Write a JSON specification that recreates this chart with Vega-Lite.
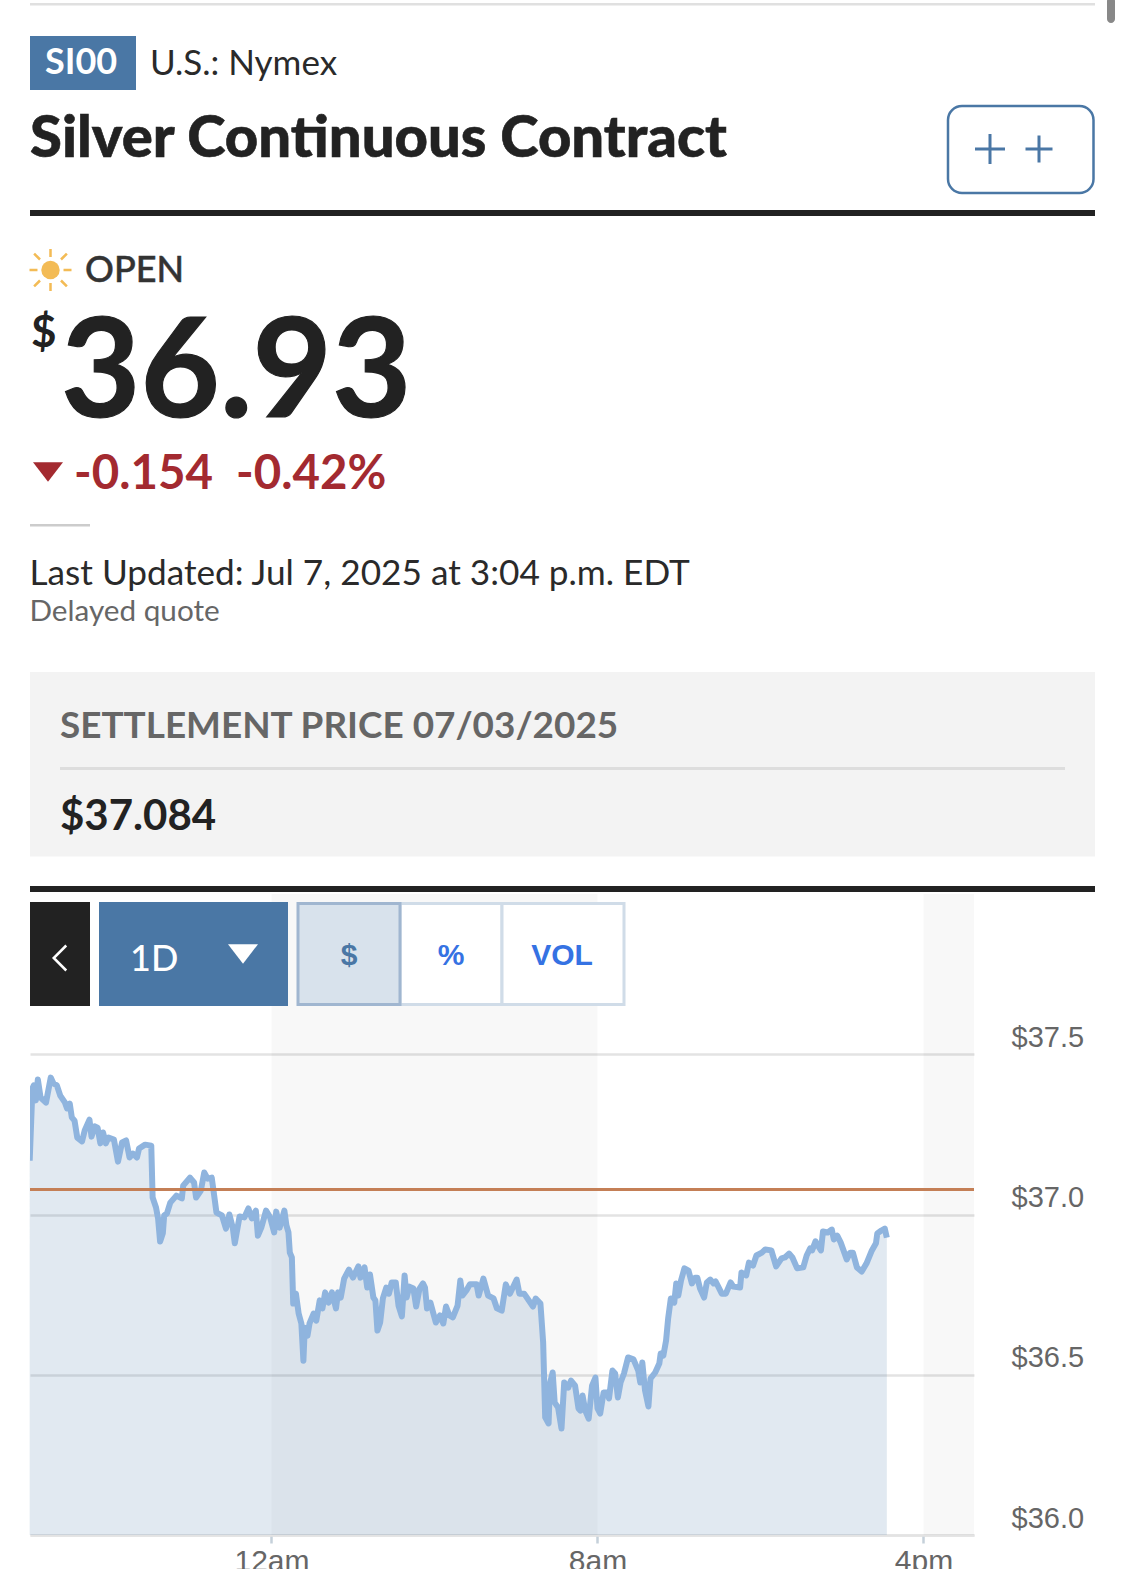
{"$schema":"https://vega.github.io/schema/vega-lite/v6.json","width":944,"height":641,"autosize":{"type":"none"},"padding":{"left":30,"top":894,"right":151,"bottom":34},"background":"#ffffff","datasets":{"quotes":[
{"t":"2025-07-06T18:04:00Z","v":37.168},{"t":"2025-07-06T18:08:00Z","v":37.393},{"t":"2025-07-06T18:10:00Z","v":37.403},{"t":"2025-07-06T18:13:00Z","v":37.356},{"t":"2025-07-06T18:16:00Z","v":37.421},{"t":"2025-07-06T18:20:00Z","v":37.365},{"t":"2025-07-06T18:28:00Z","v":37.349},{"t":"2025-07-06T18:35:00Z","v":37.427},{"t":"2025-07-06T18:39:00Z","v":37.409},{"t":"2025-07-06T18:44:00Z","v":37.403},{"t":"2025-07-06T18:49:00Z","v":37.371},{"t":"2025-07-06T18:56:00Z","v":37.349},{"t":"2025-07-06T18:59:00Z","v":37.331},{"t":"2025-07-06T19:03:00Z","v":37.346},{"t":"2025-07-06T19:06:00Z","v":37.303},{"t":"2025-07-06T19:10:00Z","v":37.293},{"t":"2025-07-06T19:14:00Z","v":37.24},{"t":"2025-07-06T19:21:00Z","v":37.228},{"t":"2025-07-06T19:25:00Z","v":37.262},{"t":"2025-07-06T19:32:00Z","v":37.296},{"t":"2025-07-06T19:35:00Z","v":37.243},{"t":"2025-07-06T19:40:00Z","v":37.275},{"t":"2025-07-06T19:44:00Z","v":37.271},{"t":"2025-07-06T19:48:00Z","v":37.222},{"t":"2025-07-06T19:52:00Z","v":37.256},{"t":"2025-07-06T19:56:00Z","v":37.222},{"t":"2025-07-06T20:00:00Z","v":37.24},{"t":"2025-07-06T20:08:00Z","v":37.234},{"t":"2025-07-06T20:14:00Z","v":37.165},{"t":"2025-07-06T20:20:00Z","v":37.225},{"t":"2025-07-06T20:26:00Z","v":37.231},{"t":"2025-07-06T20:31:00Z","v":37.178},{"t":"2025-07-06T20:36:00Z","v":37.19},{"t":"2025-07-06T20:42:00Z","v":37.178},{"t":"2025-07-06T20:45:00Z","v":37.206},{"t":"2025-07-06T20:54:00Z","v":37.218},{"t":"2025-07-06T21:03:00Z","v":37.215},{"t":"2025-07-06T21:05:00Z","v":37.053},{"t":"2025-07-06T21:10:00Z","v":37.022},{"t":"2025-07-06T21:13:00Z","v":36.988},{"t":"2025-07-06T21:16:00Z","v":36.916},{"t":"2025-07-06T21:20:00Z","v":36.941},{"t":"2025-07-06T21:22:00Z","v":36.997},{"t":"2025-07-06T21:26:00Z","v":37.003},{"t":"2025-07-06T21:31:00Z","v":37.037},{"t":"2025-07-06T21:40:00Z","v":37.059},{"t":"2025-07-06T21:48:00Z","v":37.05},{"t":"2025-07-06T21:50:00Z","v":37.09},{"t":"2025-07-06T22:00:00Z","v":37.115},{"t":"2025-07-06T22:06:00Z","v":37.1},{"t":"2025-07-06T22:09:00Z","v":37.053},{"t":"2025-07-06T22:16:00Z","v":37.075},{"t":"2025-07-06T22:21:00Z","v":37.131},{"t":"2025-07-06T22:26:00Z","v":37.112},{"t":"2025-07-06T22:32:00Z","v":37.115},{"t":"2025-07-06T22:35:00Z","v":37.069},{"t":"2025-07-06T22:39:00Z","v":37.006},{"t":"2025-07-06T22:47:00Z","v":36.997},{"t":"2025-07-06T22:53:00Z","v":36.956},{"t":"2025-07-06T22:58:00Z","v":37.0},{"t":"2025-07-06T23:03:00Z","v":36.959},{"t":"2025-07-06T23:06:00Z","v":36.91},{"t":"2025-07-06T23:13:00Z","v":36.994},{"t":"2025-07-06T23:20:00Z","v":36.991},{"t":"2025-07-06T23:26:00Z","v":37.019},{"t":"2025-07-06T23:31:00Z","v":36.988},{"t":"2025-07-06T23:37:00Z","v":37.012},{"t":"2025-07-06T23:40:00Z","v":36.934},{"t":"2025-07-06T23:45:00Z","v":36.959},{"t":"2025-07-06T23:52:00Z","v":37.012},{"t":"2025-07-06T23:58:00Z","v":36.991},
{"t":"2025-07-07T00:04:00Z","v":36.944},{"t":"2025-07-07T00:07:00Z","v":37.009},{"t":"2025-07-07T00:12:00Z","v":36.959},{"t":"2025-07-07T00:19:00Z","v":37.012},{"t":"2025-07-07T00:22:00Z","v":36.966},{"t":"2025-07-07T00:25:00Z","v":36.944},{"t":"2025-07-07T00:27:00Z","v":36.881},{"t":"2025-07-07T00:30:00Z","v":36.866},{"t":"2025-07-07T00:32:00Z","v":36.722},{"t":"2025-07-07T00:36:00Z","v":36.753},{"t":"2025-07-07T00:40:00Z","v":36.691},{"t":"2025-07-07T00:44:00Z","v":36.66},{"t":"2025-07-07T00:47:00Z","v":36.544},{"t":"2025-07-07T00:49:00Z","v":36.647},{"t":"2025-07-07T00:53:00Z","v":36.622},{"t":"2025-07-07T00:56:00Z","v":36.66},{"t":"2025-07-07T01:02:00Z","v":36.691},{"t":"2025-07-07T01:06:00Z","v":36.669},{"t":"2025-07-07T01:11:00Z","v":36.732},{"t":"2025-07-07T01:15:00Z","v":36.707},{"t":"2025-07-07T01:19:00Z","v":36.757},{"t":"2025-07-07T01:24:00Z","v":36.725},{"t":"2025-07-07T01:29:00Z","v":36.757},{"t":"2025-07-07T01:35:00Z","v":36.707},{"t":"2025-07-07T01:38:00Z","v":36.757},{"t":"2025-07-07T01:42:00Z","v":36.741},{"t":"2025-07-07T01:47:00Z","v":36.8},{"t":"2025-07-07T01:54:00Z","v":36.828},{"t":"2025-07-07T02:00:00Z","v":36.803},{"t":"2025-07-07T02:08:00Z","v":36.838},{"t":"2025-07-07T02:11:00Z","v":36.803},{"t":"2025-07-07T02:17:00Z","v":36.835},{"t":"2025-07-07T02:21:00Z","v":36.772},{"t":"2025-07-07T02:25:00Z","v":36.813},{"t":"2025-07-07T02:30:00Z","v":36.741},{"t":"2025-07-07T02:33:00Z","v":36.732},{"t":"2025-07-07T02:36:00Z","v":36.638},{"t":"2025-07-07T02:40:00Z","v":36.663},{"t":"2025-07-07T02:44:00Z","v":36.738},{"t":"2025-07-07T02:49:00Z","v":36.772},{"t":"2025-07-07T02:53:00Z","v":36.753},{"t":"2025-07-07T02:57:00Z","v":36.788},{"t":"2025-07-07T03:03:00Z","v":36.788},{"t":"2025-07-07T03:07:00Z","v":36.716},{"t":"2025-07-07T03:12:00Z","v":36.682},{"t":"2025-07-07T03:16:00Z","v":36.81},{"t":"2025-07-07T03:19:00Z","v":36.741},{"t":"2025-07-07T03:23:00Z","v":36.775},{"t":"2025-07-07T03:29:00Z","v":36.769},{"t":"2025-07-07T03:33:00Z","v":36.713},{"t":"2025-07-07T03:38:00Z","v":36.769},{"t":"2025-07-07T03:43:00Z","v":36.785},{"t":"2025-07-07T03:46:00Z","v":36.772},{"t":"2025-07-07T03:49:00Z","v":36.707},{"t":"2025-07-07T03:54:00Z","v":36.725},{"t":"2025-07-07T04:02:00Z","v":36.663},{"t":"2025-07-07T04:08:00Z","v":36.685},{"t":"2025-07-07T04:13:00Z","v":36.66},{"t":"2025-07-07T04:17:00Z","v":36.713},{"t":"2025-07-07T04:22:00Z","v":36.685},{"t":"2025-07-07T04:27:00Z","v":36.679},{"t":"2025-07-07T04:34:00Z","v":36.716},{"t":"2025-07-07T04:38:00Z","v":36.794},{"t":"2025-07-07T04:41:00Z","v":36.747},{"t":"2025-07-07T04:47:00Z","v":36.763},{"t":"2025-07-07T04:52:00Z","v":36.782},{"t":"2025-07-07T05:02:00Z","v":36.782},{"t":"2025-07-07T05:05:00Z","v":36.747},{"t":"2025-07-07T05:12:00Z","v":36.8},{"t":"2025-07-07T05:19:00Z","v":36.747},{"t":"2025-07-07T05:27:00Z","v":36.738},{"t":"2025-07-07T05:32:00Z","v":36.707},{"t":"2025-07-07T05:39:00Z","v":36.7},{"t":"2025-07-07T05:45:00Z","v":36.782},{"t":"2025-07-07T05:51:00Z","v":36.753},{"t":"2025-07-07T06:01:00Z","v":36.797},{"t":"2025-07-07T06:05:00Z","v":36.753},{"t":"2025-07-07T06:12:00Z","v":36.753},{"t":"2025-07-07T06:25:00Z","v":36.713},{"t":"2025-07-07T06:29:00Z","v":36.738},{"t":"2025-07-07T06:36:00Z","v":36.722},{"t":"2025-07-07T06:40:00Z","v":36.601},{"t":"2025-07-07T06:43:00Z","v":36.367},{"t":"2025-07-07T06:48:00Z","v":36.348},{"t":"2025-07-07T06:50:00Z","v":36.473},{"t":"2025-07-07T06:54:00Z","v":36.507},{"t":"2025-07-07T06:57:00Z","v":36.413},{"t":"2025-07-07T07:02:00Z","v":36.398},{"t":"2025-07-07T07:07:00Z","v":36.332},{"t":"2025-07-07T07:11:00Z","v":36.476},{"t":"2025-07-07T07:17:00Z","v":36.46},{"t":"2025-07-07T07:21:00Z","v":36.482},{"t":"2025-07-07T07:27:00Z","v":36.466},{"t":"2025-07-07T07:32:00Z","v":36.395},{"t":"2025-07-07T07:35:00Z","v":36.388},{"t":"2025-07-07T07:38:00Z","v":36.435},{"t":"2025-07-07T07:42:00Z","v":36.388},{"t":"2025-07-07T07:47:00Z","v":36.363},{"t":"2025-07-07T07:52:00Z","v":36.466},{"t":"2025-07-07T07:57:00Z","v":36.491},{"t":"2025-07-07T08:00:00Z","v":36.395},{"t":"2025-07-07T08:04:00Z","v":36.379},{"t":"2025-07-07T08:09:00Z","v":36.445},{"t":"2025-07-07T08:14:00Z","v":36.445},{"t":"2025-07-07T08:17:00Z","v":36.426},{"t":"2025-07-07T08:22:00Z","v":36.513},{"t":"2025-07-07T08:26:00Z","v":36.504},{"t":"2025-07-07T08:30:00Z","v":36.429},{"t":"2025-07-07T08:34:00Z","v":36.476},{"t":"2025-07-07T08:39:00Z","v":36.504},{"t":"2025-07-07T08:45:00Z","v":36.554},{"t":"2025-07-07T08:53:00Z","v":36.548},{"t":"2025-07-07T09:00:00Z","v":36.513},{"t":"2025-07-07T09:03:00Z","v":36.476},{"t":"2025-07-07T09:06:00Z","v":36.538},{"t":"2025-07-07T09:10:00Z","v":36.451},{"t":"2025-07-07T09:15:00Z","v":36.401},{"t":"2025-07-07T09:18:00Z","v":36.488},{"t":"2025-07-07T09:25:00Z","v":36.507},{"t":"2025-07-07T09:31:00Z","v":36.535},{"t":"2025-07-07T09:33:00Z","v":36.566},{"t":"2025-07-07T09:37:00Z","v":36.56},{"t":"2025-07-07T09:41:00Z","v":36.607},{"t":"2025-07-07T09:44:00Z","v":36.675},{"t":"2025-07-07T09:48:00Z","v":36.738},{"t":"2025-07-07T09:53:00Z","v":36.725},{"t":"2025-07-07T09:56:00Z","v":36.785},{"t":"2025-07-07T09:59:00Z","v":36.747},{"t":"2025-07-07T10:03:00Z","v":36.794},{"t":"2025-07-07T10:08:00Z","v":36.832},{"t":"2025-07-07T10:14:00Z","v":36.825},{"t":"2025-07-07T10:19:00Z","v":36.785},{"t":"2025-07-07T10:24:00Z","v":36.803},{"t":"2025-07-07T10:27:00Z","v":36.803},{"t":"2025-07-07T10:31:00Z","v":36.769},{"t":"2025-07-07T10:37:00Z","v":36.741},{"t":"2025-07-07T10:41:00Z","v":36.788},{"t":"2025-07-07T10:46:00Z","v":36.797},{"t":"2025-07-07T10:51:00Z","v":36.785},{"t":"2025-07-07T10:54:00Z","v":36.791},{"t":"2025-07-07T11:03:00Z","v":36.753},{"t":"2025-07-07T11:09:00Z","v":36.753},{"t":"2025-07-07T11:16:00Z","v":36.788},{"t":"2025-07-07T11:20:00Z","v":36.775},{"t":"2025-07-07T11:30:00Z","v":36.772},{"t":"2025-07-07T11:32:00Z","v":36.819},{"t":"2025-07-07T11:39:00Z","v":36.81},{"t":"2025-07-07T11:43:00Z","v":36.85},{"t":"2025-07-07T11:49:00Z","v":36.841},{"t":"2025-07-07T11:54:00Z","v":36.872},{"t":"2025-07-07T12:02:00Z","v":36.881},{"t":"2025-07-07T12:07:00Z","v":36.891},{"t":"2025-07-07T12:16:00Z","v":36.888},{"t":"2025-07-07T12:23:00Z","v":36.838},{"t":"2025-07-07T12:31:00Z","v":36.863},{"t":"2025-07-07T12:36:00Z","v":36.866},{"t":"2025-07-07T12:42:00Z","v":36.878},{"t":"2025-07-07T12:47:00Z","v":36.866},{"t":"2025-07-07T12:54:00Z","v":36.832},{"t":"2025-07-07T13:03:00Z","v":36.835},{"t":"2025-07-07T13:08:00Z","v":36.872},{"t":"2025-07-07T13:13:00Z","v":36.894},{"t":"2025-07-07T13:16:00Z","v":36.888},{"t":"2025-07-07T13:21:00Z","v":36.916},{"t":"2025-07-07T13:29:00Z","v":36.888},{"t":"2025-07-07T13:32:00Z","v":36.947},{"t":"2025-07-07T13:39:00Z","v":36.944},{"t":"2025-07-07T13:45:00Z","v":36.953},{"t":"2025-07-07T13:48:00Z","v":36.922},{"t":"2025-07-07T13:53:00Z","v":36.934},{"t":"2025-07-07T13:58:00Z","v":36.913},{"t":"2025-07-07T14:07:00Z","v":36.86},{"t":"2025-07-07T14:12:00Z","v":36.881},{"t":"2025-07-07T14:16:00Z","v":36.881},{"t":"2025-07-07T14:22:00Z","v":36.835},{"t":"2025-07-07T14:29:00Z","v":36.822},{"t":"2025-07-07T14:36:00Z","v":36.847},{"t":"2025-07-07T14:44:00Z","v":36.888},{"t":"2025-07-07T14:50:00Z","v":36.91},{"t":"2025-07-07T14:52:00Z","v":36.941},{"t":"2025-07-07T14:58:00Z","v":36.95},{"t":"2025-07-07T15:03:00Z","v":36.956},{"t":"2025-07-07T15:06:00Z","v":36.928}
]},
"config":{"view":{"stroke":null},"text":{"font":"Lato","align":"left","baseline":"alphabetic"}},
"layer":[
{"data":{"values":[{"a":"2025-07-07T00:00:00Z","b":"2025-07-07T08:00:00Z"},{"a":"2025-07-07T16:00:00Z","b":"2025-07-07T17:14:22Z"}]},"mark":{"type":"rect","fill":"#000000","opacity":0.027},"encoding":{"x":{"field":"a","type":"temporal","scale":{"type":"utc","domain":["2025-07-06T18:04:27Z","2025-07-07T17:14:22Z"]},"axis":{"title":null,"grid":false,"values":[{"year":2025,"month":7,"date":7,"hours":0,"utc":true},{"year":2025,"month":7,"date":7,"hours":8,"utc":true},{"year":2025,"month":7,"date":7,"hours":16,"utc":true}],"labelExpr":"lower(utcFormat(datum.value,'%-I%p'))","labelFont":"Liberation Sans","labelFontSize":30,"labelColor":"#666666","labelPadding":3,"labelFlush":false,"tickSize":8,"tickWidth":2.5,"tickColor":"#c5d0da","domainColor":"#e3e3e3","domainWidth":2.5}},"x2":{"field":"b"}}},
{"data":{"name":"quotes"},"mark":{"type":"area","fill":"#4a7ba7","opacity":0.165},"encoding":{"x":{"field":"t","type":"temporal"},"y":{"field":"v","type":"quantitative","scale":{"domain":[36,38],"zero":false,"nice":false},"axis":{"title":null,"orient":"right","values":[36,36.5,37,37.5],"format":"$.1f","grid":true,"gridColor":"#e3e3e3","gridWidth":2.5,"domain":false,"ticks":false,"labelFont":"Liberation Sans","labelFontSize":29,"labelColor":"#666666","labelPadding":37,"labelOffset":-17,"labelFlush":false}},"y2":{"datum":36}}},
{"data":{"name":"quotes"},"mark":{"type":"line","stroke":"#8fb4de","strokeWidth":6,"strokeJoin":"round","strokeCap":"butt","clip":true},"encoding":{"x":{"field":"t","type":"temporal"},"y":{"field":"v","type":"quantitative"}}},
{"data":{"values":[{"settle":37.078}]},"mark":{"type":"rule","stroke":"#c47f56","strokeWidth":3},"encoding":{"y":{"field":"settle","type":"quantitative"}}},
{"data":{"values":[{"k":"top"}]},"mark":{"type":"rect","fill":"#e0e0e0"},"encoding":{"x":{"value":0},"x2":{"value":1065},"y":{"value":-891},"y2":{"value":-888.5}}},
{"data":{"values":[{"k":"scroll"}]},"mark":{"type":"rect","fill":"#888888","cornerRadius":4},"encoding":{"x":{"value":1077},"x2":{"value":1085},"y":{"value":-897},"y2":{"value":-871}}},
{"data":{"values":[{"k":"badge"}]},"mark":{"type":"rect","fill":"#4a77a5"},"encoding":{"x":{"value":0},"x2":{"value":106},"y":{"value":-858},"y2":{"value":-804}}},
{"data":{"values":[{"label":"SI00"}]},"mark":{"type":"text","x":15,"y":-820,"fontSize":36,"fontWeight":700,"fill":"#ffffff"},"encoding":{"text":{"field":"label"}}},
{"data":{"values":[{"label":"U.S.: Nymex"}]},"mark":{"type":"text","x":120,"y":-819,"fontSize":35,"fill":"#2a2a2a"},"encoding":{"text":{"field":"label"}}},
{"data":{"values":[{"label":"Silver Continuous Contract"}]},"mark":{"type":"text","x":0,"y":-737,"fontSize":58,"fontWeight":900,"fill":"#222222","stroke":"#222222","strokeWidth":0.6},"encoding":{"text":{"field":"label"}}},
{"data":{"values":[{"k":"watch"}]},"mark":{"type":"rect","fill":"#ffffff","stroke":"#4a77a5","strokeWidth":2.5,"cornerRadius":14},"encoding":{"x":{"value":918},"x2":{"value":1063.5},"y":{"value":-788},"y2":{"value":-701}}},
{"data":{"values":[{"k":"plus"}]},"mark":{"type":"point","shape":"M-1,0L1,0M0,-1L0,1","filled":false,"stroke":"#4a77a5","strokeWidth":3,"opacity":1,"size":900,"x":960,"y":-745}},
{"data":{"values":[{"k":"plus"}]},"mark":{"type":"point","shape":"M-1,0L1,0M0,-1L0,1","filled":false,"stroke":"#4a77a5","strokeWidth":3,"opacity":1,"size":729,"x":1009,"y":-745}},
{"data":{"values":[{"k":"rule"}]},"mark":{"type":"rect","fill":"#222222"},"encoding":{"x":{"value":0},"x2":{"value":1065},"y":{"value":-684},"y2":{"value":-678}}},
{"data":{"values":[{"k":"sun"}]},"mark":{"type":"point","shape":"circle","filled":true,"fill":"#f3bb55","opacity":1,"size":340,"x":20.5,"y":-624}},
{"data":{"values":[{"k":"rays"}]},"mark":{"type":"point","shape":"M.62,0L1,0M-.62,0L-1,0M0,.62L0,1M0,-.62L0,-1M.5,.5L.78,.78M-.5,-.5L-.78,-.78M.5,-.5L.78,-.78M-.5,.5L-.78,.78","filled":false,"stroke":"#f3bb55","strokeWidth":2.5,"opacity":1,"size":1764,"x":20.5,"y":-624}},
{"data":{"values":[{"label":"OPEN"}]},"mark":{"type":"text","x":55,"y":-612,"fontSize":36,"fontWeight":500,"fill":"#333333","stroke":"#333333","strokeWidth":0.5},"encoding":{"text":{"field":"label"}}},
{"data":{"values":[{"label":"$"}]},"mark":{"type":"text","x":1,"y":-547,"fontSize":44,"fontWeight":700,"fill":"#222222"},"encoding":{"text":{"field":"label"}}},
{"data":{"values":[{"label":"36.93"}]},"mark":{"type":"text","x":31,"y":-477,"fontSize":137,"fontWeight":700,"fill":"#222222","stroke":"#222222","strokeWidth":1.2},"encoding":{"text":{"field":"label"}}},
{"data":{"values":[{"k":"down"}]},"mark":{"type":"point","shape":"M-1,-.65L1,-.65L0,.65Z","filled":true,"fill":"#a32a30","opacity":1,"size":900,"x":18,"y":-422}},
{"data":{"values":[{"label":"-0.154"}]},"mark":{"type":"text","x":44,"y":-405,"fontSize":47.4,"fontWeight":700,"fill":"#a32a30"},"encoding":{"text":{"field":"label"}}},
{"data":{"values":[{"label":"-0.42%"}]},"mark":{"type":"text","x":206,"y":-405,"fontSize":47.4,"fontWeight":700,"fill":"#a32a30"},"encoding":{"text":{"field":"label"}}},
{"data":{"values":[{"k":"short"}]},"mark":{"type":"rect","fill":"#cccccc"},"encoding":{"x":{"value":0},"x2":{"value":60},"y":{"value":-370},"y2":{"value":-367.5}}},
{"data":{"values":[{"label":"Last Updated: Jul 7, 2025 at 3:04 p.m. EDT"}]},"mark":{"type":"text","x":-0.5,"y":-309.5,"fontSize":35.2,"fill":"#2a2a2a"},"encoding":{"text":{"field":"label"}}},
{"data":{"values":[{"label":"Delayed quote"}]},"mark":{"type":"text","x":-0.5,"y":-273.5,"fontSize":29.7,"fill":"#666666"},"encoding":{"text":{"field":"label"}}},
{"data":{"values":[{"k":"box"}]},"mark":{"type":"rect","fill":"#f3f3f3"},"encoding":{"x":{"value":0},"x2":{"value":1065},"y":{"value":-222},"y2":{"value":-37.5}}},
{"data":{"values":[{"label":"SETTLEMENT PRICE 07/03/2025"}]},"mark":{"type":"text","x":30,"y":-156.5,"fontSize":36.9,"fontWeight":700,"fill":"#666666"},"encoding":{"text":{"field":"label"}}},
{"data":{"values":[{"k":"divider"}]},"mark":{"type":"rect","fill":"#dddddd"},"encoding":{"x":{"value":30},"x2":{"value":1035},"y":{"value":-127},"y2":{"value":-124}}},
{"data":{"values":[{"label":"$37.084"}]},"mark":{"type":"text","x":30,"y":-64.5,"fontSize":42,"fontWeight":700,"fill":"#222222"},"encoding":{"text":{"field":"label"}}},
{"data":{"values":[{"k":"rule2"}]},"mark":{"type":"rect","fill":"#222222"},"encoding":{"x":{"value":0},"x2":{"value":1065},"y":{"value":-8},"y2":{"value":-2}}},
{"data":{"values":[{"k":"back"}]},"mark":{"type":"rect","fill":"#222222"},"encoding":{"x":{"value":0},"x2":{"value":60},"y":{"value":8},"y2":{"value":112}}},
{"data":{"values":[{"k":"chevron"}]},"mark":{"type":"point","shape":"M.5,-1L-.5,0L.5,1","filled":false,"stroke":"#ffffff","strokeWidth":2.5,"opacity":1,"size":625,"x":30,"y":64}},
{"data":{"values":[{"k":"range"}]},"mark":{"type":"rect","fill":"#4a77a5"},"encoding":{"x":{"value":69},"x2":{"value":258},"y":{"value":8},"y2":{"value":112}}},
{"data":{"values":[{"label":"1D"}]},"mark":{"type":"text","x":100,"y":77,"fontSize":36,"fontWeight":500,"fill":"#ffffff"},"encoding":{"text":{"field":"label"}}},
{"data":{"values":[{"k":"drop"}]},"mark":{"type":"point","shape":"M-1,-.65L1,-.65L0,.65Z","filled":true,"fill":"#ffffff","opacity":1,"size":900,"x":213,"y":60}},
{"data":{"values":[{"k":"pct"}]},"mark":{"type":"rect","fill":"#ffffff","stroke":"#d0dce8","strokeWidth":3},"encoding":{"x":{"value":370},"x2":{"value":472},"y":{"value":9.5},"y2":{"value":110.5}}},
{"data":{"values":[{"k":"vol"}]},"mark":{"type":"rect","fill":"#ffffff","stroke":"#d0dce8","strokeWidth":3},"encoding":{"x":{"value":472},"x2":{"value":594},"y":{"value":9.5},"y2":{"value":110.5}}},
{"data":{"values":[{"k":"usd"}]},"mark":{"type":"rect","fill":"#d8e2ec","stroke":"#a0b6d0","strokeWidth":3},"encoding":{"x":{"value":268},"x2":{"value":370},"y":{"value":9.5},"y2":{"value":110.5}}},
{"data":{"values":[{"label":"$"}]},"mark":{"type":"text","x":319,"y":71,"align":"center","font":"Liberation Sans","fontSize":30,"fontWeight":700,"fill":"#4a77a5"},"encoding":{"text":{"field":"label"}}},
{"data":{"values":[{"label":"%"}]},"mark":{"type":"text","x":421,"y":71,"align":"center","font":"Liberation Sans","fontSize":30,"fontWeight":700,"fill":"#3572e3"},"encoding":{"text":{"field":"label"}}},
{"data":{"values":[{"label":"VOL"}]},"mark":{"type":"text","x":532,"y":71,"align":"center","font":"Liberation Sans","fontSize":30,"fontWeight":700,"fill":"#3572e3"},"encoding":{"text":{"field":"label"}}}
]}
